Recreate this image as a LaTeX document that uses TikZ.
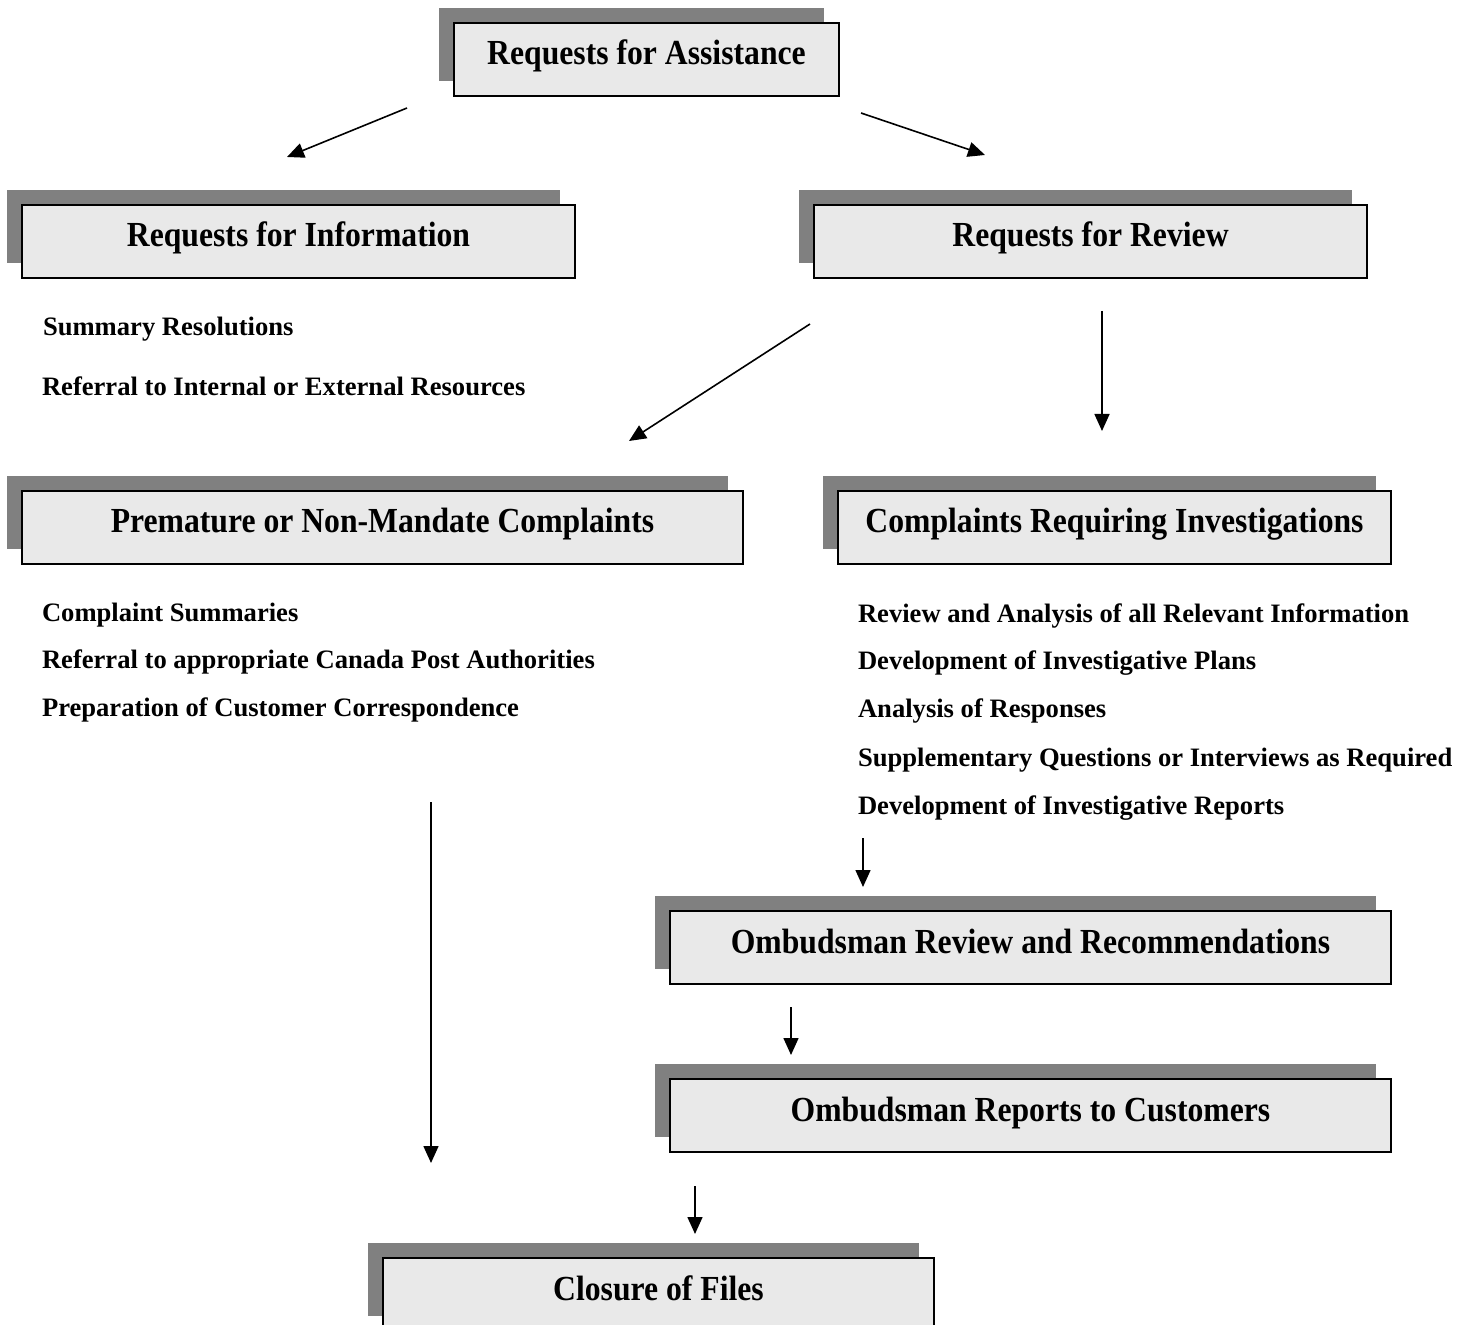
\documentclass[tikz,border=0pt]{standalone}
\usepackage{fontspec}
\setmainfont{Liberation Serif}
\newfontfamily\headfamily{Liberation Serif}[FakeStretch=0.9]
\usetikzlibrary{arrows.meta,shadows}
\definecolor{boxfill}{HTML}{E9E9E9}
\definecolor{shadowgray}{HTML}{808080}
\begin{document}
\begin{tikzpicture}[x=0.5pt,y=-0.5pt,
  hbox/.style={draw, line width=1pt, fill=boxfill, anchor=north west,
    minimum height=36.5pt, inner ysep=0pt, inner xsep=0pt, outer sep=0pt,
    text height=21pt, text depth=15.5pt,
    general shadow={fill=shadowgray, shadow xshift=-7.5pt, shadow yshift=7.5pt},
    font=\headfamily\bfseries\fontsize{17.6pt}{20pt}\selectfont},
  item/.style={anchor=base west, inner sep=0pt, outer sep=0pt,
    font=\bfseries\fontsize{13.3pt}{16pt}\selectfont},
  arr/.style={line width=0.8pt, -{Triangle[length=8.5pt,width=7.5pt]}}]
\useasboundingbox (0,0) rectangle (1472,1325);

% boxes
\node[hbox, minimum width=192.5pt] (ra) at (454,23) {Requests for Assistance};
\node[hbox, minimum width=276.5pt] (ri) at (22,205) {Requests for Information};
\node[hbox, minimum width=276.5pt] (rr) at (814,205) {Requests for Review};
\node[hbox, minimum width=360.5pt] (pn) at (22,491) {Premature or Non-Mandate Complaints};
\node[hbox, minimum width=276.5pt] (ci) at (838,491) {Complaints Requiring Investigations};
\node[hbox, minimum width=360.5pt] (or) at (670,911) {Ombudsman Review and Recommendations};
\node[hbox, minimum width=360.5pt] (oc) at (670,1079) {Ombudsman Reports to Customers};
\node[hbox, minimum width=275.5pt] (cf) at (383,1258) {Closure of Files};

% item texts
\node[item] (t1) at (43,336) {Summary Resolutions};
\node[item] (t2) at (42,396) {Referral to Internal or External Resources};
\node[item] (t3) at (42,622) {Complaint Summaries};
\node[item] (t4) at (42,669) {Referral to appropriate Canada Post Authorities};
\node[item] (t5) at (42,717) {Preparation of Customer Correspondence};
\node[item] (u1) at (858,623) {Review and Analysis of all Relevant Information};
\node[item] (u2) at (858,670) {Development of Investigative Plans};
\node[item] (u3) at (858,718) {Analysis of Responses};
\node[item] (u4) at (858,766) {Supplementary Questions or Interviews as Required};
\node[item] (u5) at (858,814) {Development of Investigative Reports};

% arrow end points
\coordinate (a1s) at (407,108); \coordinate (a1e) at (287,157);
\coordinate (a2s) at (861,113); \coordinate (a2e) at (985,155);
\coordinate (a3s) at (810,324); \coordinate (a3e) at (629,441);
\coordinate (a4s) at (1102,311); \coordinate (a4e) at (1102,431);
\coordinate (a5s) at (863,838); \coordinate (a5e) at (863,887);
\coordinate (a6s) at (791,1007); \coordinate (a6e) at (791,1055);
\coordinate (a7s) at (431,802); \coordinate (a7e) at (431,1163);
\coordinate (a8s) at (695,1186); \coordinate (a8e) at (695,1234);

\draw[arr] (a1s) -- (a1e);
\draw[arr] (a2s) -- (a2e);
\draw[arr] (a3s) -- (a3e);
\draw[arr] (a4s) -- (a4e);
\draw[arr] (a5s) -- (a5e);
\draw[arr] (a6s) -- (a6e);
\draw[arr] (a7s) -- (a7e);
\draw[arr] (a8s) -- (a8e);
\end{tikzpicture}
\end{document}
